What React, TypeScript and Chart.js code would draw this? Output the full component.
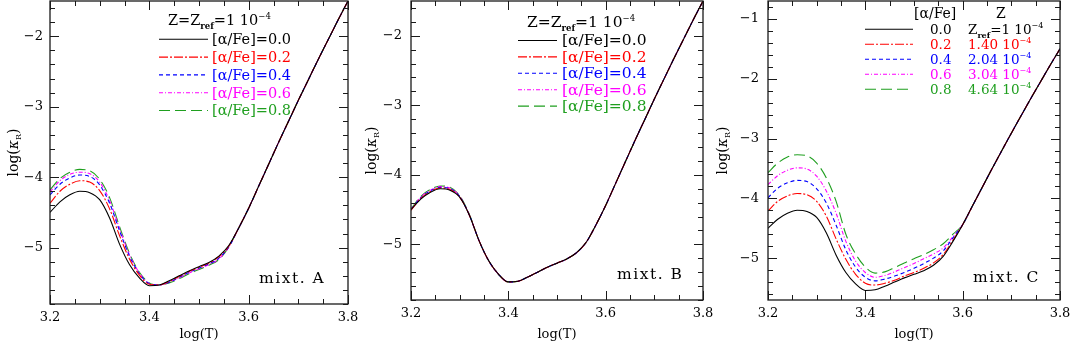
import React, { useEffect, useRef } from "react";
import { Chart, registerables } from "chart.js";
Chart.register(...registerables);

// ---------------- DATA ----------------
const LOG_T = [3.2, 3.22, 3.24, 3.26, 3.28, 3.3, 3.32, 3.34, 3.36, 3.38, 3.4, 3.42, 3.44, 3.46, 3.48, 3.5, 3.52, 3.54, 3.56, 3.58, 3.6, 3.62, 3.64, 3.66, 3.68, 3.7, 3.72, 3.74, 3.76, 3.78, 3.8];

const X_TICKS = [3.2, 3.4, 3.6, 3.8];
const Y_TICKS_AB = [-5, -4, -3, -2];
const Y_TICKS_C = [-5, -4, -3, -2, -1];

const ALPHA_FE = ["0.0", "0.2", "0.4", "0.6", "0.8"];
const Z_MANTISSA_C = ["1.40", "2.04", "3.04", "4.64"];
const MIXT_LABELS = ["mixt. A", "mixt. B", "mixt. C"];

// mixture A
const A_00 = [-4.50, -4.35, -4.25, -4.20, -4.22, -4.32, -4.58, -4.95, -5.24, -5.43, -5.54, -5.53, -5.47, -5.40, -5.33, -5.27, -5.21, -5.12, -4.97, -4.72, -4.44, -4.13, -3.82, -3.51, -3.21, -2.91, -2.62, -2.33, -2.05, -1.77, -1.50];
const A_02 = [-4.37, -4.20, -4.10, -4.05, -4.07, -4.19, -4.45, -4.83, -5.16, -5.39, -5.52, -5.53, -5.48, -5.41, -5.34, -5.28, -5.22, -5.13, -4.98, -4.72, -4.44, -4.13, -3.82, -3.51, -3.21, -2.91, -2.62, -2.33, -2.05, -1.77, -1.50];
const A_04 = [-4.25, -4.10, -4.01, -3.97, -3.99, -4.11, -4.37, -4.76, -5.12, -5.37, -5.51, -5.53, -5.49, -5.42, -5.35, -5.29, -5.23, -5.15, -4.99, -4.72, -4.44, -4.13, -3.82, -3.51, -3.21, -2.91, -2.62, -2.33, -2.05, -1.77, -1.50];
const A_06 = [-4.21, -4.05, -3.96, -3.93, -3.95, -4.07, -4.33, -4.73, -5.10, -5.36, -5.51, -5.53, -5.49, -5.43, -5.36, -5.30, -5.24, -5.16, -4.99, -4.72, -4.44, -4.13, -3.82, -3.51, -3.21, -2.91, -2.62, -2.33, -2.05, -1.77, -1.50];
const A_08 = [-4.18, -4.02, -3.93, -3.89, -3.91, -4.03, -4.29, -4.70, -5.08, -5.35, -5.50, -5.53, -5.50, -5.44, -5.37, -5.31, -5.25, -5.17, -4.99, -4.72, -4.44, -4.13, -3.82, -3.51, -3.21, -2.91, -2.62, -2.33, -2.05, -1.77, -1.50];

// mixture B
const B_00 = [-4.50, -4.35, -4.25, -4.20, -4.22, -4.32, -4.58, -4.95, -5.24, -5.43, -5.54, -5.53, -5.47, -5.40, -5.33, -5.27, -5.21, -5.12, -4.97, -4.72, -4.44, -4.13, -3.82, -3.51, -3.21, -2.91, -2.62, -2.33, -2.05, -1.77, -1.50];
const B_02 = [-4.51, -4.34, -4.24, -4.19, -4.21, -4.32, -4.58, -4.95, -5.24, -5.43, -5.54, -5.53, -5.47, -5.40, -5.33, -5.27, -5.21, -5.12, -4.97, -4.72, -4.44, -4.13, -3.82, -3.51, -3.21, -2.91, -2.62, -2.33, -2.05, -1.77, -1.50];
const B_04 = [-4.50, -4.33, -4.23, -4.18, -4.20, -4.31, -4.58, -4.95, -5.24, -5.43, -5.54, -5.53, -5.47, -5.40, -5.33, -5.27, -5.21, -5.12, -4.97, -4.72, -4.44, -4.13, -3.82, -3.51, -3.21, -2.91, -2.62, -2.33, -2.05, -1.77, -1.50];
const B_06 = [-4.50, -4.32, -4.22, -4.17, -4.19, -4.31, -4.58, -4.95, -5.24, -5.43, -5.54, -5.53, -5.47, -5.40, -5.33, -5.27, -5.21, -5.12, -4.97, -4.72, -4.44, -4.13, -3.82, -3.51, -3.21, -2.91, -2.62, -2.33, -2.05, -1.77, -1.50];
const B_08 = [-4.49, -4.31, -4.21, -4.16, -4.18, -4.30, -4.57, -4.95, -5.24, -5.43, -5.54, -5.53, -5.47, -5.40, -5.33, -5.27, -5.21, -5.12, -4.97, -4.72, -4.44, -4.13, -3.82, -3.51, -3.21, -2.91, -2.62, -2.33, -2.05, -1.77, -1.50];

// mixture C
const C_00 = [-4.50, -4.35, -4.25, -4.20, -4.22, -4.32, -4.58, -4.95, -5.24, -5.43, -5.54, -5.53, -5.47, -5.40, -5.33, -5.27, -5.21, -5.12, -4.97, -4.72, -4.44, -4.13, -3.82, -3.51, -3.21, -2.91, -2.62, -2.33, -2.05, -1.77, -1.50];
const C_02 = [-4.21, -4.05, -3.96, -3.92, -3.94, -4.05, -4.30, -4.68, -5.02, -5.27, -5.42, -5.45, -5.42, -5.37, -5.30, -5.24, -5.17, -5.08, -4.94, -4.70, -4.44, -4.13, -3.82, -3.51, -3.21, -2.91, -2.62, -2.33, -2.05, -1.77, -1.50];
const C_04 = [-3.99, -3.83, -3.74, -3.70, -3.72, -3.84, -4.08, -4.45, -4.86, -5.15, -5.32, -5.38, -5.35, -5.30, -5.24, -5.17, -5.09, -5.00, -4.88, -4.66, -4.44, -4.13, -3.82, -3.51, -3.21, -2.91, -2.62, -2.33, -2.05, -1.77, -1.50];
const C_06 = [-3.77, -3.62, -3.53, -3.49, -3.51, -3.63, -3.88, -4.25, -4.72, -5.05, -5.24, -5.32, -5.29, -5.23, -5.16, -5.09, -5.01, -4.93, -4.83, -4.64, -4.44, -4.13, -3.82, -3.51, -3.21, -2.91, -2.62, -2.33, -2.05, -1.77, -1.50];
const C_08 = [-3.57, -3.41, -3.31, -3.27, -3.29, -3.41, -3.66, -4.05, -4.60, -4.93, -5.15, -5.25, -5.23, -5.16, -5.08, -5.01, -4.94, -4.86, -4.76, -4.60, -4.44, -4.13, -3.82, -3.51, -3.21, -2.91, -2.62, -2.33, -2.05, -1.77, -1.50];

// ---------------- STYLE ----------------
const COLORS = ["#000000", "#ff0000", "#0000ff", "#ff00ff", "#1f9f1f"];
const DASHES: number[][] = [[], [9, 2, 2, 2], [4, 3], [4, 2, 1, 2], [11, 5]];
const FONT = "DejaVu Serif";
const H = 343;

type Seg = { t: string; s: number; dy?: number; bold?: boolean; italic?: boolean };

function richWidth(ctx: CanvasRenderingContext2D, segs: Seg[]) {
  let w = 0;
  for (const g of segs) {
    ctx.font = `${g.italic ? "italic " : ""}${g.bold ? "bold " : ""}${g.s}px "${FONT}"`;
    w += ctx.measureText(g.t).width;
  }
  return w;
}

function drawRich(ctx: CanvasRenderingContext2D, segs: Seg[], x: number, y: number, color: string) {
  let cx = x;
  ctx.fillStyle = color;
  ctx.textAlign = "left";
  ctx.textBaseline = "alphabetic";
  for (const g of segs) {
    ctx.font = `${g.italic ? "italic " : ""}${g.bold ? "bold " : ""}${g.s}px "${FONT}"`;
    ctx.fillText(g.t, cx, y + (g.dy || 0));
    cx += ctx.measureText(g.t).width;
  }
}

type Panel = {
  key: string;
  canvasLeft: number;
  canvasW: number;
  plotLeft: number;
  plotRight: number;
  plotBottom: number;
  yMin: number;
  yMax: number;
  yTicks: number[];
  yPad: number;
  series: number[][];
  mixt: string;
  mixtPos: { x: number; y: number };
  ylabX: number;
  legend: any;
};

const PANELS: Panel[] = [
  {
    key: "A", canvasLeft: 0, canvasW: 360, plotLeft: 50, plotRight: 348, plotBottom: 304,
    yMin: -5.8, yMax: -1.5, yTicks: Y_TICKS_AB, yPad: 7,
    series: [A_00, A_02, A_04, A_06, A_08], mixt: MIXT_LABELS[0], mixtPos: { x: 259, y: 283 }, ylabX: 13,
    legend: { kind: "AB", hx: 168, hy: 25, x1: 159, x2: 208, tx: 212, y0: 39.3, dy: 17.8, fs: 14.5 },
  },
  {
    key: "B", canvasLeft: 358, canvasW: 362, plotLeft: 411, plotRight: 703, plotBottom: 300,
    yMin: -5.8, yMax: -1.5, yTicks: Y_TICKS_AB, yPad: 9,
    series: [B_00, B_02, B_04, B_06, B_08], mixt: MIXT_LABELS[1], mixtPos: { x: 617, y: 279 }, ylabX: 371,
    legend: { kind: "AB", hx: 527, hy: 26.5, x1: 518, x2: 557, tx: 562, y0: 40.5, dy: 16.4, fs: 15.5 },
  },
  {
    key: "C", canvasLeft: 705, canvasW: 366, plotLeft: 768, plotRight: 1060, plotBottom: 300,
    yMin: -5.7, yMax: -0.7, yTicks: Y_TICKS_C, yPad: 9,
    series: [C_00, C_02, C_04, C_06, C_08], mixt: MIXT_LABELS[2], mixtPos: { x: 973, y: 282 }, ylabX: 722,
    legend: { kind: "C", hx1: 914, hx2: 996, hy: 18, x1: 865, x2: 913, ax: 930, zx: 968, y0: 29.3, dy: 15 },
  },
];

function makeDecor(p: Panel) {
  return {
    id: "decor" + p.key,
    afterDraw(chart: any) {
      const ctx: CanvasRenderingContext2D = chart.ctx;
      const { left, right, top, bottom } = chart.chartArea;
      const xs = chart.scales.x;
      const ys = chart.scales.y;
      const off = p.canvasLeft;
      ctx.save();
      ctx.setLineDash([]);
      ctx.strokeStyle = "#1a1a1a";
      ctx.lineWidth = 1.3;
      ctx.strokeRect(left, top, right - left, bottom - top);
      ctx.lineWidth = 1;
      ctx.beginPath();
      for (let k = 0; k <= 12; k++) {
        const v = 3.2 + k * 0.05;
        const px = Math.round(xs.getPixelForValue(v)) + 0.5;
        const L = k % 4 === 0 ? 9 : 5;
        ctx.moveTo(px, bottom); ctx.lineTo(px, bottom - L);
        ctx.moveTo(px, top); ctx.lineTo(px, top + L);
      }
      const kmin = Math.ceil(ys.min / 0.2 - 1e-6);
      const kmax = Math.floor(ys.max / 0.2 + 1e-6);
      for (let k = kmin; k <= kmax; k++) {
        const v = k * 0.2;
        const py = Math.round(ys.getPixelForValue(v)) + 0.5;
        const L = k % 5 === 0 ? 9 : 5;
        ctx.moveTo(left, py); ctx.lineTo(left + L, py);
        ctx.moveTo(right, py); ctx.lineTo(right - L, py);
      }
      ctx.stroke();

      // y-axis label log(kappa_R)
      const ylab: Seg[] = [
        { t: "log(", s: 14 },
        { t: "κ", s: 14, italic: true },
        { t: "R", s: 8, dy: 3 },
        { t: ")", s: 14 },
      ];
      const yw = richWidth(ctx, ylab);
      ctx.save();
      ctx.translate(p.ylabX - off + 5, (top + bottom) / 2);
      ctx.rotate(-Math.PI / 2);
      drawRich(ctx, ylab, -yw / 2, 0, "#000");
      ctx.restore();

      // mixture label
      ctx.save();
      try { (ctx as any).letterSpacing = "1.5px"; } catch (e) {}
      drawRich(ctx, [{ t: p.mixt, s: 15.5 }], p.mixtPos.x - off, p.mixtPos.y, "#000");
      ctx.restore();

      // legend
      const lg = p.legend;
      const ds = chart.data.datasets;
      if (lg.kind === "AB") {
        drawRich(ctx, [
          { t: "Z=Z", s: lg.fs },
          { t: "ref", s: 8.5, dy: 4, bold: true },
          { t: "=1 10", s: lg.fs },
          { t: "−4", s: 8.5, dy: -6 },
        ], lg.hx - off, lg.hy, "#000");
        for (let i = 0; i < ALPHA_FE.length; i++) {
          const y = lg.y0 + lg.dy * i;
          ctx.beginPath();
          ctx.strokeStyle = ds[i].borderColor;
          ctx.lineWidth = 1.1;
          ctx.setLineDash(ds[i].borderDash || []);
          ctx.moveTo(lg.x1 - off, y); ctx.lineTo(lg.x2 - off, y);
          ctx.stroke();
          ctx.setLineDash([]);
          drawRich(ctx, [{ t: "[α/Fe]=" + ALPHA_FE[i], s: lg.fs }], lg.tx - off, y + 4.8, ds[i].borderColor);
        }
      } else {
        drawRich(ctx, [{ t: "[α/Fe]", s: 14 }], lg.hx1 - off, lg.hy, "#000");
        drawRich(ctx, [{ t: "Z", s: 14 }], lg.hx2 - off, lg.hy, "#000");
        for (let i = 0; i < ALPHA_FE.length; i++) {
          const y = lg.y0 + lg.dy * i;
          const col = ds[i].borderColor;
          ctx.beginPath();
          ctx.strokeStyle = col;
          ctx.lineWidth = 1.1;
          ctx.setLineDash(ds[i].borderDash || []);
          ctx.moveTo(lg.x1 - off, y); ctx.lineTo(lg.x2 - off, y);
          ctx.stroke();
          ctx.setLineDash([]);
          drawRich(ctx, [{ t: ALPHA_FE[i], s: 13.5 }], lg.ax - off, y + 4.5, col);
          const zsegs: Seg[] = i === 0
            ? [{ t: "Z", s: 13.5 }, { t: "ref", s: 8, dy: 4, bold: true }, { t: "=1 10", s: 13.5 }, { t: "−4", s: 8, dy: -6 }]
            : [{ t: Z_MANTISSA_C[i - 1] + " 10", s: 13.5 }, { t: "−4", s: 8, dy: -6 }];
          drawRich(ctx, zsegs, lg.zx - off, y + 4.5, col);
        }
      }
      ctx.restore();
    },
  };
}

function PanelChart({ p }: { p: Panel }) {
  const ref = useRef<HTMLCanvasElement>(null);
  useEffect(() => {
    const canvas = ref.current!;
    const tickFont = { family: FONT, size: 13 };
    const chart = new Chart(canvas, {
      type: "line",
      data: {
        datasets: p.series.map((s, i) => ({
          label: "[α/Fe]=" + ALPHA_FE[i],
          data: LOG_T.map((x, j) => ({ x, y: s[j] })),
          borderColor: COLORS[i],
          borderDash: DASHES[i],
          borderWidth: 1.1,
          pointRadius: 0,
          fill: false,
          cubicInterpolationMode: "monotone" as const,
        })),
      },
      options: {
        animation: false,
        responsive: false,
        devicePixelRatio: 1,
        events: [],
        layout: { padding: { left: 0, right: p.canvasLeft + p.canvasW - p.plotRight, top: 1, bottom: 0 } },
        plugins: { legend: { display: false }, tooltip: { enabled: false } },
        scales: {
          x: {
            type: "linear",
            min: 3.2,
            max: 3.8,
            afterBuildTicks: (s: any) => { s.ticks = X_TICKS.map((v) => ({ value: v })); },
            afterFit: (s: any) => { s.height = H - p.plotBottom; s.paddingLeft = 0; s.paddingRight = 0; },
            ticks: {
              callback: (v: any) => Number(v).toFixed(1),
              font: tickFont, color: "#000", padding: 6, maxRotation: 0, autoSkip: false,
            },
            grid: { display: false, drawTicks: false },
            border: { display: false },
            title: { display: true, text: "log(T)", font: tickFont, color: "#000", padding: { top: 0, bottom: 1 } },
          },
          y: {
            type: "linear",
            min: p.yMin,
            max: p.yMax,
            afterBuildTicks: (s: any) => { s.ticks = p.yTicks.map((v) => ({ value: v })); },
            afterFit: (s: any) => { s.width = p.plotLeft - p.canvasLeft; s.paddingTop = 0; s.paddingBottom = 0; },
            ticks: {
              callback: (v: any) => (Number(v) < 0 ? "−" : "") + Math.abs(Number(v)),
              font: tickFont, color: "#000", padding: p.yPad,
            },
            grid: { display: false, drawTicks: false },
            border: { display: false },
          },
        },
      } as any,
      plugins: [makeDecor(p)],
    });
    return () => chart.destroy();
  }, []);
  return (
    <canvas
      ref={ref}
      width={p.canvasW}
      height={H}
      style={{ position: "absolute", left: p.canvasLeft, top: 0, width: p.canvasW, height: H }}
    />
  );
}

export default function App() {
  return (
    <div style={{ position: "fixed", left: 0, top: 0, width: 1071, height: H, background: "#fff", overflow: "hidden" }}>
      {PANELS.map((p) => (
        <PanelChart key={p.key} p={p} />
      ))}
    </div>
  );
}
